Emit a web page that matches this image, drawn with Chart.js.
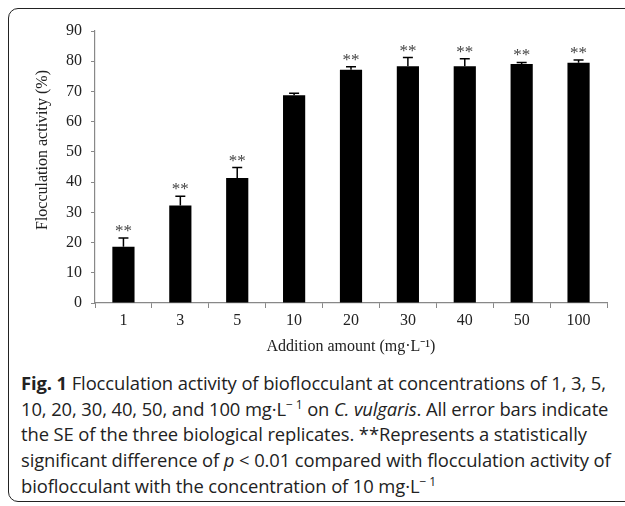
<!DOCTYPE html>
<html>
<head>
<meta charset="utf-8">
<script src="https://cdn.jsdelivr.net/npm/chart.js@4"></script>
<style>
  html, body { margin: 0; padding: 0; background: #fff; }
  #wrap { position: relative; width: 625px; height: 506px; overflow: hidden; }
  #frame {
    position: absolute; left: 8px; top: 8px; width: 660px; height: 494px;
    border: 1.5px solid #222; border-radius: 10px; box-sizing: border-box;
  }
  #chartBox { position: absolute; left: 0; top: 0; width: 625px; height: 356px; }
  #caption {
    position: absolute; left: 21px; top: 370px; width: 604px;
    font-family: "Open Sans", sans-serif; font-size: 18.4px; line-height: 25.7px;
    color: #222; white-space: nowrap; letter-spacing: -0.1px;
  }
  #caption sup { font-size: 12px; vertical-align: 7px; line-height: 0; }
</style>
</head>
<body>
<div id="wrap">
  <div id="frame"></div>
  <div id="chartBox"><canvas id="chart"></canvas></div>
  <div id="caption">
    <b>Fig. 1</b> Flocculation activity of bioflocculant at concentrations of 1, 3, 5,<br>
    10, 20, 30, 40, 50, and 100 mg·L<sup>− 1</sup> on <i>C. vulgaris</i>. All error bars indicate<br>
    the SE of the three biological replicates. **Represents a statistically<br>
    significant difference of <i>p</i> &lt; 0.01 compared with flocculation activity of<br>
    bioflocculant with the concentration of 10 mg·L<sup>− 1</sup>
  </div>
</div>
<script>
const doses = ['1', '3', '5', '10', '20', '30', '40', '50', '100'];
const activity = [18.6, 32.3, 41.4, 68.7, 77.2, 78.3, 78.3, 79.1, 79.5];
const stdErr = [2.9, 3.0, 3.4, 0.7, 1.0, 2.9, 2.5, 0.5, 0.9];
const significant = [true, true, true, false, true, true, true, true, true];

const serif = '"Liberation Serif", "Times New Roman", serif';

// error bars (upper half only) and ** marks
const errorBars = {
  id: 'errorBars',
  afterDatasetsDraw(chart) {
    const ctx = chart.ctx;
    const y = chart.scales.y;
    const meta = chart.getDatasetMeta(0);
    ctx.save();
    meta.data.forEach((bar, i) => {
      const top = y.getPixelForValue(activity[i] + stdErr[i]);
      ctx.strokeStyle = '#000';
      ctx.lineWidth = 1.5;
      ctx.beginPath();
      ctx.moveTo(bar.x, bar.y);
      ctx.lineTo(bar.x, top);
      ctx.moveTo(bar.x - 5, top);
      ctx.lineTo(bar.x + 5, top);
      ctx.stroke();
      if (significant[i]) {
        ctx.fillStyle = '#444';
        ctx.font = '17px ' + serif;
        ctx.textAlign = 'center';
        ctx.textBaseline = 'alphabetic';
        ctx.fillText('**', bar.x, top - 2);
      }
    });
    ctx.restore();
  }
};

// y-axis title, drawn slightly above the centre like the original
const yTitle = {
  id: 'yTitle',
  afterDraw(chart) {
    const ctx = chart.ctx;
    ctx.save();
    ctx.translate(43, 150);
    ctx.rotate(-Math.PI / 2);
    ctx.fillStyle = '#222';
    ctx.font = '16px ' + serif;
    ctx.textAlign = 'center';
    ctx.textBaseline = 'middle';
    ctx.fillText('Flocculation activity (%)', 0, 0);
    ctx.restore();
  }
};

new Chart(document.getElementById('chart'), {
  type: 'bar',
  data: {
    labels: doses,
    datasets: [{
      data: activity,
      backgroundColor: '#000',
      borderWidth: 0,
      barPercentage: 0.39,
      categoryPercentage: 1
    }]
  },
  options: {
    responsive: true,
    maintainAspectRatio: false,
    animation: false,
    layout: { padding: { left: 0, right: 18, top: 31, bottom: 0 } },
    plugins: { legend: { display: false }, tooltip: { enabled: false } },
    scales: {
      x: {
        afterFit: s => { s.height = 53; },
        grid: { drawOnChartArea: false, drawTicks: true, tickLength: 5, color: '#888', lineWidth: 1 },
        border: { color: '#888', width: 1.2 },
        ticks: { color: '#222', font: { family: serif, size: 16 }, padding: 3 },
        title: {
          display: true,
          text: 'Addition amount (mg·L⁻¹)',
          color: '#222',
          font: { family: serif, size: 16 },
          padding: { top: 0, bottom: 0 }
        }
      },
      y: {
        min: 0,
        max: 90,
        afterFit: s => { s.width = 95; },
        grid: { drawOnChartArea: false, drawTicks: true, tickLength: 4, color: '#888', lineWidth: 1 },
        border: { color: '#888', width: 1.2 },
        ticks: { stepSize: 10, color: '#222', font: { family: serif, size: 16 }, padding: 9 }
      }
    }
  },
  plugins: [errorBars, yTitle]
});
</script>
</body>
</html>
